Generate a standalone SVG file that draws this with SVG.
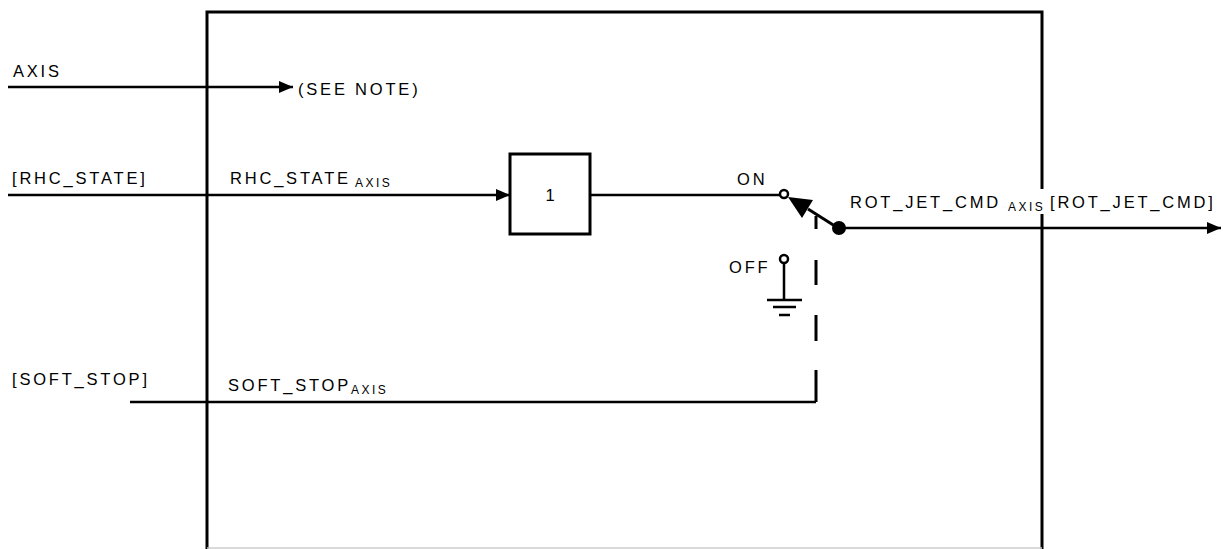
<svg xmlns="http://www.w3.org/2000/svg" width="1223" height="549" viewBox="0 0 1223 549">
<defs>
<style>
.t{font-family:"Liberation Sans",Arial,sans-serif;font-size:16.5px;letter-spacing:2.8px;fill:#000}
.s{font-family:"Liberation Sans",Arial,sans-serif;font-size:12px;letter-spacing:2.5px;fill:#000}
.ln{stroke:#000;stroke-width:2.5;fill:none}
.th{stroke:#000;stroke-width:3;fill:none}
</style>
<marker id="ah" markerWidth="14" markerHeight="12" refX="14" refY="6" orient="auto" markerUnits="userSpaceOnUse">
<path d="M0,0 L14,6 L0,12 Z" fill="#000"/>
</marker>
</defs>
<rect width="1223" height="549" fill="#fff"/>
<g id="frame">
<path class="th" d="M207,549 V12 H1042 V189 M1042,214 V549"/>
<path d="M207,548 H1042" stroke="#ccc" stroke-width="1.5"/>
</g>
<g id="connectors">
<path class="ln" d="M8,87 H293" marker-end="url(#ah)"/>
<path class="ln" d="M8,195 H510" marker-end="url(#ah)"/>
<path class="ln" d="M590,195 H780"/>
<path class="ln" d="M130,402 H816"/>
<path class="th" d="M816,216 V229 M816,260 V285 M816,315 V341 M816,370 V402"/>
<path class="ln" d="M840,228 H1221" marker-end="url(#ah)"/>
</g>
<g id="block1">
<rect x="510" y="154" width="80" height="80" class="th"/>
<text class="t" x="550" y="201" text-anchor="middle" style="letter-spacing:0">1</text>
</g>
<g id="switch">
<circle cx="784" cy="194" r="4" fill="#fff" stroke="#000" stroke-width="2.5"/>
<line x1="838" y1="228" x2="808" y2="209" stroke="#000" stroke-width="3"/>
<path d="M788,197 L813,200 L802,218 Z" fill="#000"/>
<circle cx="839" cy="228" r="7" fill="#000"/>
<text class="t" x="737" y="185">ON</text>
</g>
<g id="off">
<circle cx="784" cy="259" r="4" fill="#fff" stroke="#000" stroke-width="2.5"/>
<path class="ln" d="M784,263 V300 M767,300 H802 M773,307 H796 M779,315 H790"/>
<text class="t" x="729" y="273">OFF</text>
</g>
<g id="labels">
<text class="t" x="13" y="77">AXIS</text>
<text class="t" x="298" y="95">(SEE NOTE)</text>
<text class="t" x="12" y="184">[RHC_STATE]</text>
<text class="t" x="230" y="184">RHC_STATE</text>
<text class="s" x="355" y="187">AXIS</text>
<text class="t" x="12" y="385">[SOFT_STOP]</text>
<text class="t" x="228" y="391">SOFT_STOP</text>
<text class="s" x="351" y="394">AXIS</text>
<text class="t" x="850" y="208">ROT_JET_CMD</text>
<text class="s" x="1008" y="211">AXIS</text>
<text class="t" x="1050" y="208">[ROT_JET_CMD]</text>
</g>
</svg>
